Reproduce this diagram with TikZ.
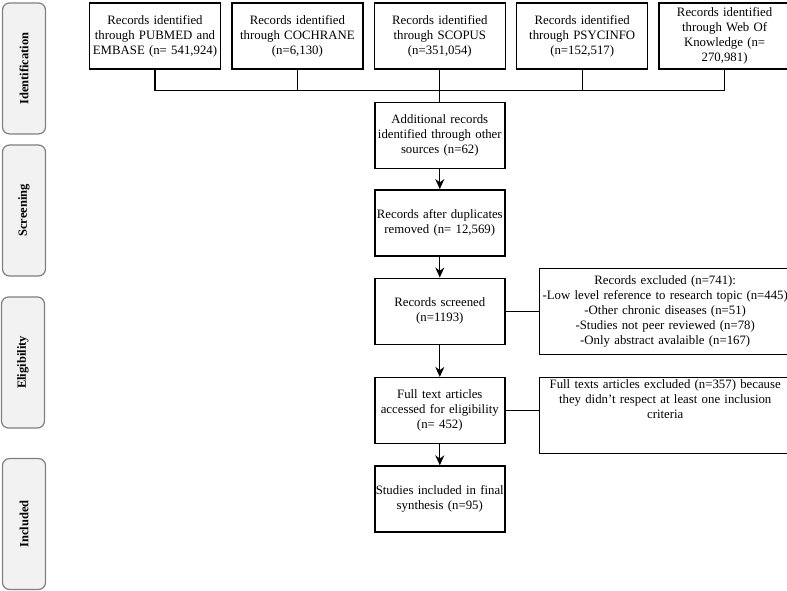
\documentclass[tikz,border=0pt]{standalone}
\usepackage{fontspec}
\setmainfont{Liberation Serif}
\usetikzlibrary{arrows.meta,positioning}

\begin{document}
\begin{tikzpicture}[x=1pt,y=1pt,>={Stealth[length=10pt,width=9pt]},
    every node/.style={font=\fontsize{12.8}{15}\selectfont},
    box/.style={shape=rectangle,draw,line width=1.4pt,align=center,text width=129pt,minimum width=131pt,minimum height=66pt,inner sep=1pt},
    mainbox/.style={box,text width=128pt,minimum width=130pt},
    exclbox/.style={box,text width=249pt,minimum width=251pt},
    phase/.style={shape=rectangle,draw=gray,fill=gray!10,line width=1.2pt,rounded corners=7pt,minimum width=131pt,minimum height=43pt,rotate=90,font=\fontsize{12.5}{15}\selectfont\bfseries},
    conn/.style={line width=1.1pt}]
    \useasboundingbox (0,0) rectangle (787,-590);
    % phase labels
    \node (identphase)[phase] at (24,-68.5) {Identification};
    \node (screenphase)[phase] at (24,-210.5) {Screening};
    \node (eligphase)[phase] at (23,-362.5) {Eligibility};
    \node (inclphase)[phase] at (24,-524) {Included};
    % create the nodes
    \node (pubmed)[box] at (155,-36) {Records identified\\through PUBMED and\\EMBASE (n= 541,924)};
    \node (cochrane)[box, right=10pt of pubmed] {Records identified\\through COCHRANE\\(n=6,130)};
    \node (scopus)[box, right=10pt of cochrane] {Records identified\\through SCOPUS\\(n=351,054)};
    \node (psycinfo)[box, right=10pt of scopus] {Records identified\\through PSYCINFO\\(n=152,517)};
    \node (wok)[box, right=10pt of psycinfo] {Records identified\\through Web Of\\Knowledge (n=\\270,981)};
    \coordinate[below=21pt of scopus] (join);
    \node (add)[mainbox, below=32pt of scopus] {Additional records\\identified through other\\sources (n=62)};
    \node (dup)[mainbox, below=20pt of add] {Records after duplicates\\removed (n= 12,569)};
    \node (screen)[mainbox, below=21pt of dup] {Records screened\\(n=1193)};
    \node (full)[mainbox, below=32pt of screen] {Full text articles\\accessed for eligibility\\(n= 452)};
    \node (incl)[mainbox, below=21pt of full] {Studies included in final\\synthesis (n=95)};
    \node (excl)[exclbox, right=33.5pt of screen, minimum height=86pt] {Records excluded (n=741):\\-Low level reference to research topic (n=445)\\-Other chronic diseases (n=51)\\-Studies not peer reviewed (n=78)\\-Only abstract avalaible (n=167)};
    \node (fullexcl)[exclbox, anchor=north west, minimum height=76pt] at (full.north -| excl.west) {\parbox[c][72pt][t]{249pt}{\centering Full texts articles excluded (n=357) because\\they didn't respect at least one inclusion\\criteria}};
    % connect the nodes
    \draw[conn] (pubmed.south) |- (join) -| (wok.south);
    \draw[conn] (cochrane.south) -- (cochrane.south |- join);
    \draw[conn] (psycinfo.south) -- (psycinfo.south |- join);
    \draw[conn] (scopus.south) -- (add.north);
    \draw[conn,->] (add) -- (dup);
    \draw[conn,->] (dup) -- (screen);
    \draw[conn,->] (screen) -- (full);
    \draw[conn,->] (full) -- (incl);
    \draw[conn] (screen) -- (excl);
    \draw[conn] (full.east) -- (full.east -| fullexcl.west);
\end{tikzpicture}
\end{document}
